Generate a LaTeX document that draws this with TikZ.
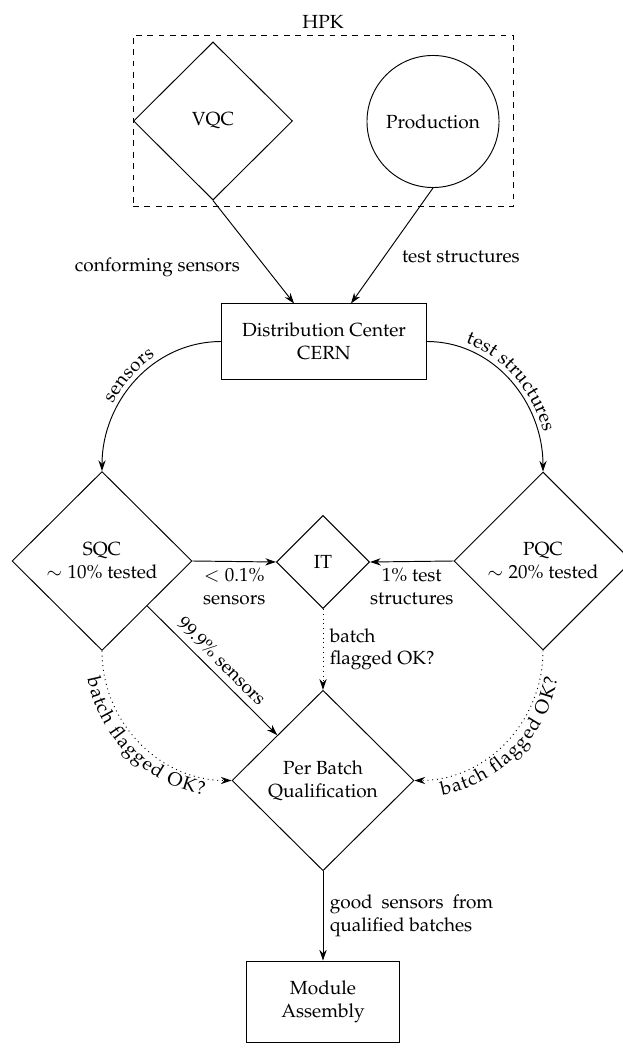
\documentclass[tikz,border=0pt]{standalone}
\usepackage[T1]{fontenc}
\usepackage{mathpazo}
\usetikzlibrary{shapes.geometric, arrows.meta, decorations.text}
\begin{document}
\begin{tikzpicture}[x=0.5263pt, y=-0.5263pt, line width=0.5pt,
  dia/.style={diamond, draw, align=center, inner sep=0pt},
  box/.style={rectangle, draw, align=center},
  arr/.style={-{Stealth[length=5.6pt,width=3.8pt]}},
  curvtext/.style={decorate, decoration={text along path, text align=center, raise=#1}}]
\useasboundingbox (0,0) rectangle (623,1061);

% HPK group
\node[draw, dashed, minimum width=200pt, minimum height=90.5pt] (hpk) at (323,121) {};
\node (hpklabel) at (323,21.5) {HPK};
\node[dia, minimum width=83.7pt, minimum height=83.2pt] (vqc) at (213,121) {VQC};
\node[circle, draw, minimum size=69.5pt] (prod) at (433,121.5) {Production};

% distribution
\node[box, minimum width=107.4pt, minimum height=39.5pt] (dc) at (324,341.5) {Distribution Center\\CERN};

% tests
\node[dia, minimum width=94.7pt, minimum height=94.2pt] (sqc) at (102,561) {SQC\\$\sim 10\%$ tested};
\node[dia, minimum width=49pt, minimum height=49pt] (it) at (323,562) {IT};
\node[dia, minimum width=93.7pt, minimum height=93.7pt] (pqc) at (543,561) {PQC\\$\sim 20\%$ tested};
\node[dia, minimum width=95.8pt, minimum height=95pt] (pb) at (323,780.5) {Per Batch\\Qualification};
\node[box, minimum width=81pt, minimum height=42.6pt] (ma) at (323,1001.5) {Module\\Assembly};

% straight connectors
\draw[arr] (vqc.south) -- node[pos=0.65, left=10pt] {conforming sensors} (dc);
\draw[arr] (prod.south) -- node[pos=0.6, right=6pt] {test structures} (dc);
\draw[arr] (sqc.east) -- node[below, align=center] {$<0.1\%$\\sensors} (it.west);
\draw[arr] (pqc.west) -- node[below, align=center] {1\% test\\structures} (it.east);
\draw[arr] (sqc.south east) -- node[midway, sloped, above] {$99.9\%$ sensors} (pb.north west);
\draw[arr, dotted] (it.south) -- node[midway, right, align=left] {batch\\flagged OK?} (pb.north);
\draw[arr] (pb.south) -- node[midway, right, align=left] {\makebox[86pt][s]{good sensors from}\\qualified batches} (ma.north);

% curved connectors
\draw[arr] (dc.west) to[out=180,in=90] (sqc.north);
\draw[arr] (dc.east) to[out=0,in=90] (pqc.north);
\draw[arr, dotted] (sqc.south) to[out=-90,in=180] (pb.west);
\draw[arr, dotted] (pqc.south) to[out=-90,in=0] (pb.east);

% curved labels
\path[curvtext=3pt, decoration={text={sensors}}] (sqc.north) to[out=90,in=180] (dc.west);
\path[curvtext=3pt, decoration={text={test structures}}] (dc.east) to[out=0,in=90] (pqc.north);
\path[curvtext=-9pt, decoration={text={batch flagged OK?}}] (sqc.south) to[out=-90,in=180] (pb.west);
\path[curvtext=-9pt, decoration={text={batch flagged OK?}}] (pb.east) to[out=0,in=-90] (pqc.south);
\end{tikzpicture}
\end{document}
